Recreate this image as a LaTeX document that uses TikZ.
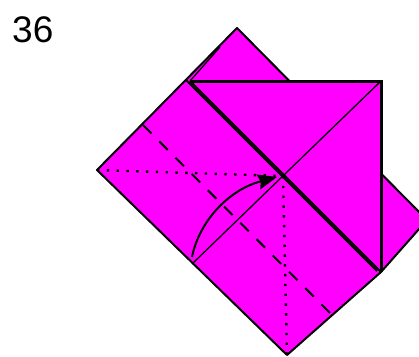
\documentclass[tikz,border=0pt]{standalone}
\usepackage{fontspec}
\setmainfont{Liberation Sans}
\usetikzlibrary{arrows.meta}
\definecolor{paper}{RGB}{255,0,255}
\begin{document}
\begin{tikzpicture}[x=1pt,y=-1pt,
  flap/.style={draw=black,fill=paper,line width=2pt,line join=round},
  crease/.style={line width=3pt},
  doubleedge/.style={line width=2pt},
  thinfold/.style={line width=1.3pt},
  valley/.style={line width=2pt,dash pattern=on 12pt off 11pt},
  mountain/.style={line width=2.4pt,dash pattern=on 2.4pt off 7.4pt},
  arr/.style={-{Stealth[length=19pt,width=15pt,inset=2pt]},line width=2pt}]
\useasboundingbox (0,0) rectangle (419,356);
\clip (0,0) rectangle (419,356);
\coordinate (apex) at (237,28);
\coordinate (left) at (97,170);
\coordinate (bottom) at (287,355);
\coordinate (tip) at (427,220);
\coordinate (rbot) at (381,272);
\coordinate (rtop) at (381,81);
\coordinate (ltop) at (186,80);
\coordinate (inner) at (190,81);
\coordinate (mid) at (283,176);
\coordinate (foot) at (192,264);
\node[font=\fontsize{37}{37}\selectfont,anchor=base west,inner sep=0pt] (num) at (12,42) {36};
% back layer and front layer
\draw[flap] (apex) -- (tip) -- (rbot) -- (bottom) -- (left) -- cycle;
\fill[paper] (inner) -- (rtop) -- (rbot) -- cycle;
% folded edges
\draw[crease] (inner) -- (rtop) -- (rbot);
\draw[doubleedge] (ltop) -- (377,271);
\draw[doubleedge] (inner) -- (rbot);
\draw[thinfold] (inner) -- (220,47);
\draw[thinfold] (foot) -- (rtop);
% fold lines
\draw[valley] (143,125) -- (332,315);
\draw[mountain] (left) -- (mid);
\draw[mountain] (mid) -- (bottom);
\draw[arr] (192,257) .. controls (199,222) and (228,190) .. (277,177);
\end{tikzpicture}
\end{document}
